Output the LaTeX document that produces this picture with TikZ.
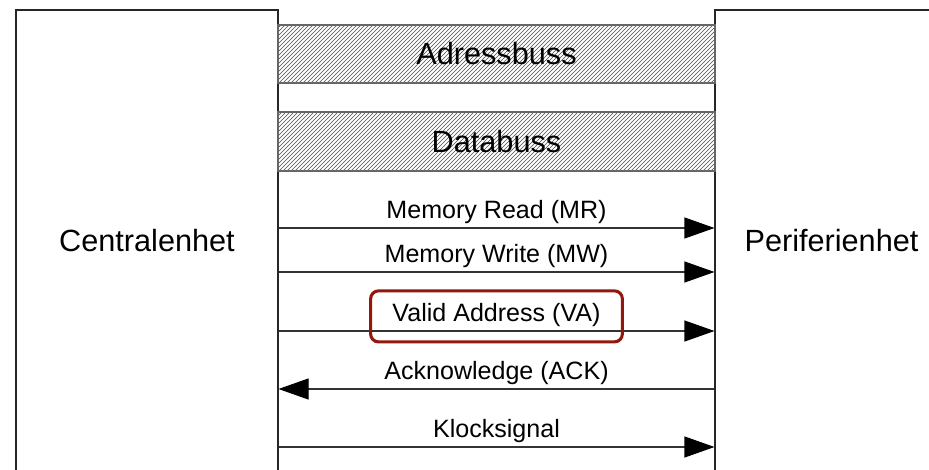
\documentclass[tikz,border=0pt]{standalone}
\usepackage{fontspec}
\setmainfont{Liberation Sans}
\usetikzlibrary{arrows.meta,patterns,fit}

\definecolor{hiliteRed}{RGB}{145,24,12}

\tikzset{
  unit/.style={draw=black!85, line width=0.8pt, minimum width=#1, minimum height=346.5pt,
    font=\fontsize{23}{27}\selectfont},
  bus/.style={draw=black!60, line width=0.8pt, pattern=north east lines, pattern color=black!70,
    minimum width=327.75pt, minimum height=#1, font=\fontsize{23}{27}\selectfont},
  sig/.style={draw=black!80, line width=0.8pt,
    -{Triangle[length=22.5pt,width=15.75pt,color=black]}},
  siglabel/.style={above=2.8pt, inner sep=0pt, font=\fontsize{18.8}{22}\selectfont},
  hilite/.style={draw=hiliteRed, line width=2.3pt, rounded corners=6pt,
    inner xsep=16pt, inner ysep=10pt, yshift=-1pt}
}

\begin{document}
\begin{tikzpicture}[x=0.75pt, y=-0.75pt]
\useasboundingbox (0,0) rectangle (929,470);
\clip (0,0) rectangle (929,470);

% units
\node[unit=196.5pt] (cpu) at (147,241) {Centralenhet};
\node[unit=174.75pt] (peri) at (831.5,241) {Periferienhet};

% buses
\node[bus=43.5pt] (adr) at (496.5,54) {Adressbuss};
\node[bus=44.25pt] (data) at (496.5,141.5) {Databuss};

% signal levels
\coordinate (mr) at (0,228);
\coordinate (mw) at (0,272);
\coordinate (va) at (0,331);
\coordinate (ack) at (0,389);
\coordinate (clk) at (0,447);

\draw[sig] (cpu.east |- mr) -- node[siglabel] (mrlabel) {Memory Read (MR)} (peri.west |- mr);
\draw[sig] (cpu.east |- mw) -- node[siglabel] (mwlabel) {Memory Write (MW)} (peri.west |- mw);
\draw[sig] (cpu.east |- va) -- node[siglabel] (valabel) {Valid Address (VA)} (peri.west |- va);
\draw[sig] (peri.west |- ack) -- node[siglabel] (acklabel) {Acknowledge (ACK)} (cpu.east |- ack);
\draw[sig] (cpu.east |- clk) -- node[siglabel] (clklabel) {Klocksignal} (peri.west |- clk);

\node[hilite, fit=(valabel)] (vabox) {};
\end{tikzpicture}
\end{document}
